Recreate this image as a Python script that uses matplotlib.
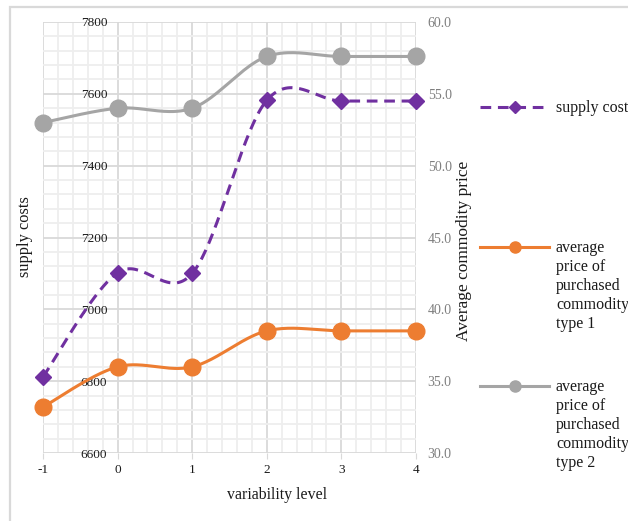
import numpy as np
import matplotlib.pyplot as plt
from matplotlib.lines import Line2D
from matplotlib.patches import Rectangle
from matplotlib.ticker import MultipleLocator, FormatStrFormatter

plt.rcParams['font.family'] = ['Liberation Serif', 'DejaVu Serif']

# data
levels = [-1, 0, 1, 2, 3, 4]
supply_cost = [6812, 7102, 7100, 7582, 7580, 7580]
price_type1 = [33.2, 36.0, 36.0, 38.5, 38.5, 38.5]
price_type2 = [53.0, 54.0, 54.0, 57.6, 57.6, 57.6]

PURPLE = '#7030a0'
ORANGE = '#ed7d31'
GRAY = '#a5a5a5'
TXT = '#1a1a1a'


def smooth(x, y, n=40):
    # catmull-rom like the spreadsheet "smoothed line"
    x = np.asarray(x, float)
    y = np.asarray(y, float)
    px = np.concatenate([[x[0]], x, [x[-1]]])
    py = np.concatenate([[y[0]], y, [y[-1]]])
    xs, ys = [], []
    t = np.linspace(0, 1, n)
    for i in range(1, len(px) - 2):
        x0, x1, x2, x3 = px[i - 1:i + 3]
        y0, y1, y2, y3 = py[i - 1:i + 3]
        cx1, cy1 = x1 + (x2 - x0) / 6, y1 + (y2 - y0) / 6
        cx2, cy2 = x2 - (x3 - x1) / 6, y2 - (y3 - y1) / 6
        bx = (1-t)**3*x1 + 3*(1-t)**2*t*cx1 + 3*(1-t)*t**2*cx2 + t**3*x2
        by = (1-t)**3*y1 + 3*(1-t)**2*t*cy1 + 3*(1-t)*t**2*cy2 + t**3*y2
        xs.extend(bx)
        ys.extend(by)
    return xs, ys


W, H = 628, 521
fig = plt.figure(figsize=(W / 100, H / 100), dpi=100)
ax = fig.add_axes([43 / W, 1 - 453 / H, 373 / W, 431 / H])
ax2 = ax.twinx()

# grid
ax.set_xlim(-1, 4)
ax.set_ylim(6600, 7800)
ax.xaxis.set_major_locator(MultipleLocator(1))
ax.xaxis.set_minor_locator(MultipleLocator(0.2))
ax.yaxis.set_major_locator(MultipleLocator(200))
ax.yaxis.set_minor_locator(MultipleLocator(40))
ax.grid(which='minor', color='#eeeeee', linewidth=1.3, zorder=0)
ax.grid(which='major', color='#d9d9d9', linewidth=1.3, zorder=0)
ax.set_axisbelow(True)
for s in ax.spines.values():
    s.set_color('none')
for s in ax2.spines.values():
    s.set_color('none')
ax.spines['left'].set_position(('data', 0))
ax.tick_params(axis='y', which='both', length=0, labelsize=9.5, labelcolor=TXT, pad=7.5)
ax.tick_params(axis='x', which='minor', length=0)
ax.tick_params(axis='x', which='major', length=4, color='#d9d9d9', labelsize=9.5,
               labelcolor=TXT, pad=4)
ax.set_xticks(levels)
ax.set_xticklabels([str(v) for v in levels])

ax2.set_ylim(30, 60)
ax2.yaxis.set_major_locator(MultipleLocator(5))
ax2.yaxis.set_major_formatter(FormatStrFormatter('%.1f'))
ax2.tick_params(axis='y', length=0, labelsize=10, labelcolor='#7f7f7f', pad=8.4)

# lines
sx, sy = smooth(levels, supply_cost)
ax.plot(sx, sy, color=PURPLE, lw=2.2, ls=(0, (3.5, 2.2)), zorder=3, clip_on=False)
ax.plot(levels, supply_cost, ls='none', marker='D', ms=8.5, color=PURPLE, zorder=4,
        clip_on=False)

tx, ty = smooth(levels, price_type1)
ax2.plot(tx, ty, color=ORANGE, lw=2.2, zorder=3, clip_on=False)
ax2.plot(levels, price_type1, ls='none', marker='o', ms=12, color=ORANGE, zorder=4,
         clip_on=False)

gx, gy = smooth(levels, price_type2)
ax2.plot(gx, gy, color=GRAY, lw=2.2, zorder=3, clip_on=False)
ax2.plot(levels, price_type2, ls='none', marker='o', ms=12, color=GRAY, zorder=4,
         clip_on=False)

# axis titles
fig.text(25 / W, 1 - 237 / H, 'supply costs', rotation=90, ha='center', va='center',
         fontsize=11.8, color=TXT)
fig.text(464 / W, 1 - 251 / H, 'Average commodity price', rotation=90, ha='center',
         va='center', fontsize=12.5, color=TXT)
fig.text(277 / W, 1 - 495 / H, 'variability level', ha='center', va='center',
         fontsize=11.4, color=TXT)

# legend drawn by hand
def legend_entry(y, color, marker, ms, dashed, label):
    ls = (0, (3.5, 2.2)) if dashed else '-'
    fig.add_artist(Line2D([480 / W, 549 / W], [1 - y / H] * 2, color=color, lw=2.2,
                          ls=ls, transform=fig.transFigure))
    fig.add_artist(Line2D([515 / W], [1 - y / H], color=color, marker=marker, ms=ms,
                          transform=fig.transFigure))
    fig.text(556 / W, 1 - (y - 7) / H, label, ha='left', va='top', fontsize=11.5,
             linespacing=1.24, color=TXT)


legend_entry(107, PURPLE, 'D', 6.5, True, 'supply cost')
legend_entry(247, ORANGE, 'o', 8, False, 'average\nprice of\npurchased\ncommodity\ntype 1')
legend_entry(386, GRAY, 'o', 8, False, 'average\nprice of\npurchased\ncommodity\ntype 2')

# chart border
fig.add_artist(Rectangle((10 / W, -0.2), 1.2, (H - 7) / H + 0.2, fill=False,
                         edgecolor='#d9d9d9', lw=1.6, transform=fig.transFigure))

fig.savefig('out.png', dpi=100)
